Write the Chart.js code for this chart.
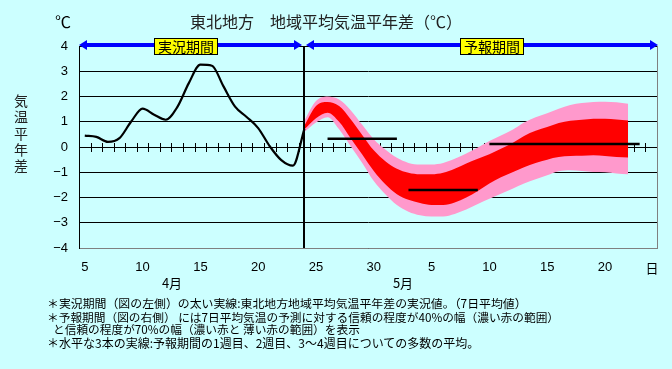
<!DOCTYPE html>
<html>
<head>
<meta charset="utf-8">
<script src="https://cdn.jsdelivr.net/npm/chart.js@4"></script>
<style>
body { margin: 0; background: #ccffff; }
#wrap { position: relative; width: 672px; height: 369px; background: #ccffff; overflow: hidden;
        font-family: "Noto Sans CJK JP", sans-serif; color: #000; }
#chart { position: absolute; left: 0; top: 0; }
.txt { position: absolute; white-space: nowrap; }
.mid { transform: translateX(-50%); }
.box { position: absolute; background: #ffff00; border: 1px solid #000; font-size: 14px;
       line-height: 15px; padding: 0 3px; white-space: nowrap; transform: translateX(-50%); }
.note { position: absolute; left: 47px; font-size: 11.7px; line-height: 14px; white-space: nowrap; }
</style>
</head>
<body>
<div id="wrap">
  <canvas id="chart" width="672" height="369"></canvas>
  <div class="txt" style="left:55px; top:11px; font-size:16px; line-height:20px;">℃</div>
  <div class="txt mid" style="left:326px; top:11px; font-size:16px; line-height:20px; color:#222;">東北地方　地域平均気温平年差（℃）</div>
  <div class="txt" style="left:13px; top:92px; width:16px; text-align:center; font-size:14px; line-height:16.25px; color:#222;">気<br>温<br>平<br>年<br>差</div>
  <div class="box" style="left:186px; top:38px;">実況期間</div>
  <div class="box" style="left:492px; top:38px;">予報期間</div>
  <div class="txt mid" style="left:172px; top:275px; font-size:13px; line-height:15px;">4月</div>
  <div class="txt mid" style="left:403px; top:275px; font-size:13px; line-height:15px;">5月</div>
  <div class="txt mid" style="left:652px; top:260px; font-size:13px; line-height:15px;">日</div>
  <div class="note" style="top:296px; font-size:11.9px;">＊実況期間（図の左側）の太い実線:東北地方地域平均気温平年差の実況値。（7日平均値）</div>
  <div class="note" style="top:310px;">＊予報期間（図の右側） には7日平均気温の予測に対する信頼の程度が40%の幅（濃い赤の範囲）</div>
  <div class="note" style="top:322px; left:53px;">と信頼の程度が70%の幅（濃い赤と 薄い赤の範囲）を表示</div>
  <div class="note" style="top:336px; font-size:12px;">＊水平な3本の実線:予報期間の1週目、2週目、3～4週目についての多数の平均。</div>
</div>
<script>
// Apr 5 .. Apr 30, May 1 .. May 24
const days = [5, 6, 7, 8, 9, 10, 11, 12, 13, 14, 15, 16, 17, 18, 19, 20, 21, 22, 23, 24, 25, 26, 27, 28, 29, 30,
              1, 2, 3, 4, 5, 6, 7, 8, 9, 10, 11, 12, 13, 14, 15, 16, 17, 18, 19, 20, 21, 22, 23, 24];

// observed 7-day mean anomaly (to Apr 24)
const observed = [0.45, 0.4, 0.2, 0.35, 1.0, 1.52, 1.28, 1.08, 1.58, 2.53, 3.26, 3.22, 2.4, 1.6, 1.19, 0.75, 0.03, -0.52, -0.74, 0.72,
                  null, null, null, null, null, null, null, null, null, null, null, null, null, null, null, null, null, null, null, null,
                  null, null, null, null, null, null, null, null, null, null];

// forecast ranges (Apr 24 .. May 22)
const range70Hi = [null, null, null, null, null, null, null, null, null, null, null, null, null, null, null, null, null, null, null,
                   1.05, 1.82, 2.0, 1.88, 1.46, 0.88, 0.31, -0.1, -0.43, -0.63, -0.69, -0.69, -0.63, -0.47, -0.26, -0.02,
                   0.24, 0.46, 0.68, 0.97, 1.18, 1.34, 1.51, 1.66, 1.74, 1.78, 1.79, 1.77, 1.71, null, null];
const range40Hi = [null, null, null, null, null, null, null, null, null, null, null, null, null, null, null, null, null, null, null,
                   0.85, 1.62, 1.78, 1.62, 1.1, 0.48, -0.13, -0.56, -0.86, -1.02, -1.08, -1.08, -1.02, -0.86, -0.65, -0.47,
                   -0.29, -0.07, 0.16, 0.44, 0.64, 0.79, 0.95, 1.04, 1.08, 1.12, 1.12, 1.09, 1.05, null, null];
const range40Lo = [null, null, null, null, null, null, null, null, null, null, null, null, null, null, null, null, null, null, null,
                   0.7, 1.14, 1.36, 1.0, 0.35, -0.3, -0.95, -1.48, -1.87, -2.09, -2.22, -2.3, -2.3, -2.2, -2.0, -1.74,
                   -1.45, -1.2, -1.0, -0.8, -0.63, -0.5, -0.4, -0.36, -0.35, -0.33, -0.36, -0.4, -0.42, null, null];
const range70Lo = [null, null, null, null, null, null, null, null, null, null, null, null, null, null, null, null, null, null, null,
                   0.6, 0.97, 1.18, 0.7, 0.03, -0.63, -1.35, -1.87, -2.3, -2.56, -2.7, -2.75, -2.75, -2.65, -2.48, -2.26,
                   -2.05, -1.85, -1.65, -1.45, -1.28, -1.12, -0.96, -0.92, -0.95, -0.99, -1.0, -1.05, -1.08, null, null];

// ensemble means: week 1, week 2, weeks 3-4
const week1 = [null, null, null, null, null, null, null, null, null, null, null, null, null, null, null, null, null, null, null, null, null,
               0.33, 0.33, 0.33, 0.33, 0.33, 0.33, 0.33,
               null, null, null, null, null, null, null, null, null, null, null, null, null, null, null, null, null, null, null, null, null, null];
const week2 = [null, null, null, null, null, null, null, null, null, null, null, null, null, null, null, null, null, null, null, null, null,
               null, null, null, null, null, null, null,
               -1.7, -1.7, -1.7, -1.7, -1.7, -1.7, -1.7,
               null, null, null, null, null, null, null, null, null, null, null, null, null, null, null];
const week34 = [null, null, null, null, null, null, null, null, null, null, null, null, null, null, null, null, null, null, null, null, null,
                null, null, null, null, null, null, null, null, null, null, null, null, null, null,
                0.12, 0.12, 0.12, 0.12, 0.12, 0.12, 0.12, 0.12, 0.12, 0.12, 0.12, 0.12, 0.12, 0.12, null];

const forecastStart = 19; // Apr 24

const overlay = {
    id: 'overlay',
    beforeDatasetsDraw(chart) {
        const { ctx, chartArea, scales: { x, y } } = chart;
        const y0 = Math.round(y.getPixelForValue(0));
        ctx.save();
        ctx.strokeStyle = '#000';
        ctx.lineWidth = 1;
        // tick marks across the zero line, between days
        for (let i = 1; i <= days.length; i++) {
            const px = Math.round(x.getPixelForValue(i - 0.5)) + 0.5;
            ctx.beginPath();
            ctx.moveTo(px, y0 - 4);
            ctx.lineTo(px, y0 + 5);
            ctx.stroke();
        }
        ctx.strokeStyle = '#808080';
        ctx.beginPath();
        ctx.moveTo(chartArea.right + 0.5, chartArea.top);
        ctx.lineTo(chartArea.right + 0.5, chartArea.bottom + 1);
        ctx.stroke();
        ctx.restore();
    },
    afterDatasetsDraw(chart) {
        const { ctx, chartArea, scales: { x } } = chart;
        const vx = Math.round(x.getPixelForValue(forecastStart));
        ctx.save();
        ctx.strokeStyle = '#000';
        ctx.lineWidth = 2;
        ctx.beginPath();
        ctx.moveTo(vx, chartArea.top);
        ctx.lineTo(vx, chartArea.bottom);
        ctx.stroke();

        const ay = chartArea.top - 1;
        const arrow = (x1, x2) => {
            ctx.strokeStyle = '#0000ff';
            ctx.fillStyle = '#0000ff';
            ctx.lineWidth = 4;
            ctx.beginPath();
            ctx.moveTo(x1 + 4, ay);
            ctx.lineTo(x2 - 4, ay);
            ctx.stroke();
            ctx.beginPath();
            ctx.moveTo(x1, ay);
            ctx.lineTo(x1 + 8, ay - 5);
            ctx.lineTo(x1 + 8, ay + 5);
            ctx.closePath();
            ctx.fill();
            ctx.beginPath();
            ctx.moveTo(x2, ay);
            ctx.lineTo(x2 - 8, ay - 5);
            ctx.lineTo(x2 - 8, ay + 5);
            ctx.closePath();
            ctx.fill();
        };
        arrow(chartArea.left, vx - 2);
        arrow(vx + 2, chartArea.right + 1);
        ctx.restore();
    }
};

const meanLine = data => ({
    data: data, borderColor: '#000', borderWidth: 2.5, pointRadius: 0, fill: false
});

new Chart(document.getElementById('chart'), {
    type: 'line',
    data: {
        labels: days,
        datasets: [
            { label: '実況', data: observed, borderColor: '#000', borderWidth: 2.2, pointRadius: 0,
              cubicInterpolationMode: 'monotone', fill: false },
            meanLine(week1),
            meanLine(week2),
            meanLine(week34),
            { label: '40%', data: range40Hi, showLine: false, borderColor: 'transparent', pointRadius: 0,
              backgroundColor: '#ff0000', fill: '+1', cubicInterpolationMode: 'monotone' },
            { data: range40Lo, showLine: false, borderColor: 'transparent', pointRadius: 0,
              fill: false, cubicInterpolationMode: 'monotone' },
            { label: '70%', data: range70Hi, showLine: false, borderColor: 'transparent', pointRadius: 0,
              backgroundColor: '#ff99cc', fill: '+1', cubicInterpolationMode: 'monotone' },
            { data: range70Lo, showLine: false, borderColor: 'transparent', pointRadius: 0,
              fill: false, cubicInterpolationMode: 'monotone' }
        ]
    },
    options: {
        responsive: false,
        animation: false,
        layout: { padding: { top: 46, right: 15, left: 0, bottom: 0 } },
        plugins: {
            legend: { display: false },
            tooltip: { enabled: false }
        },
        scales: {
            x: {
                offset: true,
                grid: { display: false, drawTicks: false },
                border: { color: '#808080', width: 1 },
                ticks: {
                    autoSkip: false, maxRotation: 0, padding: 12, color: '#000',
                    font: { family: 'Liberation Sans', size: 13 },
                    callback: (val, i) => days[i] % 5 === 0 ? String(days[i]) : ''
                },
                afterFit: s => { s.height = 121; }
            },
            y: {
                min: -4, max: 4,
                grid: { color: '#000', lineWidth: 1, drawTicks: false },
                border: { color: '#000', width: 1 },
                ticks: {
                    stepSize: 1, padding: 11, color: '#000',
                    font: { family: 'Liberation Sans', size: 13 },
                    callback: v => v < 0 ? '\u2212' + Math.abs(v) : String(v)
                },
                afterFit: s => { s.width = 79; }
            }
        }
    },
    plugins: [overlay]
});
</script>
</body>
</html>
